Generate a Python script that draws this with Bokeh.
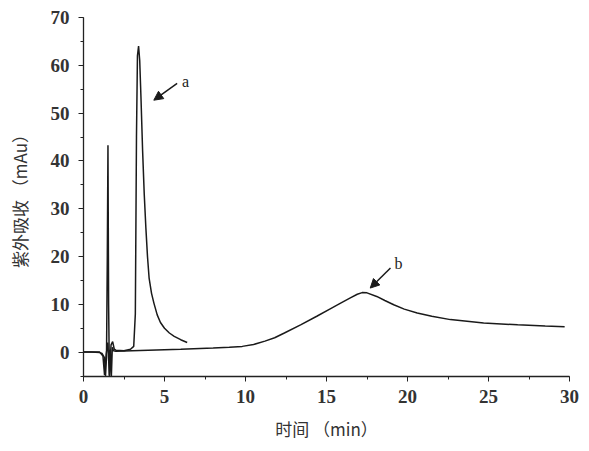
from bokeh.plotting import figure
from bokeh.models import SingleIntervalTicker, Label, Arrow, NormalHead, Range1d
from bokeh.embed import file_html
from bokeh.resources import INLINE

# Curve a (sample a)
a_time = [0.0, 0.5, 1.0, 1.2, 1.3, 1.4, 1.5, 1.6, 1.7, 1.8, 1.9, 2.0, 2.5, 2.9, 3.1, 3.2, 3.27,
          3.33, 3.40, 3.47, 3.55, 3.65, 3.75, 3.85, 3.95, 4.05, 4.2, 4.35, 4.55, 4.75, 5.0,
          5.3, 5.6, 6.0, 6.4]
a_value = [0.0, 0.0, 0.0, -0.8, -4.8, -0.5, 2.0, -4.9, 1.5, 2.2, 0.6, 0.4, 0.3, 0.6, 1.2, 8.0, 45.0,
           62.0, 64.0, 61.0, 53.0, 42.0, 33.0, 26.0, 20.0, 15.5, 12.3, 10.2, 7.8, 6.2, 5.0,
           4.0, 3.3, 2.6, 2.0]

# Curve b (sample b)
b_time = [0.0, 0.5, 1.0, 1.15, 1.3, 1.36, 1.42, 1.47, 1.51, 1.55, 1.6, 1.66, 1.72, 1.78, 1.85,
          2.0, 4.0, 6.0, 8.0, 9.0, 9.8, 10.5, 11.2, 11.8, 12.4, 13.4, 14.4, 15.2, 15.9, 16.5,
          16.9, 17.2, 17.5, 18.1, 18.6, 19.15, 19.8, 20.6, 21.5, 22.65, 24.7, 26.8, 28.5, 29.7]
b_value = [0.0, 0.0, -0.1, -0.3, -1.2, -5.0, -1.0, 20.0, 43.3, 10.0, -5.0, 0.5, -5.0, 1.0, 0.3,
           0.2, 0.4, 0.6, 0.85, 1.0, 1.2, 1.6, 2.3, 3.0, 4.0, 5.7, 7.5, 9.0, 10.3, 11.4,
           12.1, 12.45, 12.4, 11.65, 10.8, 9.9, 9.0, 8.2, 7.5, 6.8, 6.1, 5.7, 5.45, 5.3]

# Annotations: arrows (tail -> head) and labels
arrow_names = ["a", "b"]
arrow_tail_x = [5.78, 18.95]
arrow_tail_y = [56.2, 17.6]
arrow_head_x = [4.34, 17.7]
arrow_head_y = [52.7, 13.4]
label_x = [6.3, 19.45]
label_y = [56.7, 18.6]

x_ticks_interval = 5
y_ticks_interval = 10

p = figure(width=583, height=443, output_backend="svg", toolbar_location=None,
           x_range=Range1d(0, 30), y_range=Range1d(-5.1, 70),
           min_border_left=83, min_border_right=14, min_border_top=17, min_border_bottom=66,
           x_axis_label="时间 （min）", y_axis_label="紫外吸收 （mAu）")
p.outline_line_color = None
p.xgrid.visible = False
p.ygrid.visible = False
p.background_fill_color = "white"

p.xaxis.ticker = SingleIntervalTicker(interval=x_ticks_interval, num_minor_ticks=2)
p.yaxis.ticker = SingleIntervalTicker(interval=y_ticks_interval, num_minor_ticks=2)

for ax in (p.xaxis[0], p.yaxis[0]):
    ax.axis_line_color = "#222222"
    ax.axis_line_width = 1.3
    ax.major_tick_line_color = "#222222"
    ax.minor_tick_line_color = "#222222"
    ax.major_tick_in = 0
    ax.major_tick_out = 5
    ax.minor_tick_in = 0
    ax.minor_tick_out = 3
    ax.major_label_text_font = "Liberation Serif"
    ax.major_label_text_font_style = "bold"
    ax.major_label_text_font_size = "19px"
    ax.major_label_text_color = "#333333"
    ax.axis_label_text_font = "Noto Sans CJK SC"
    ax.axis_label_text_font_style = "normal"
    ax.axis_label_text_font_size = "17px"
    ax.axis_label_text_color = "#333333"

p.xaxis.major_label_standoff = 8
p.yaxis.major_label_standoff = 9
p.xaxis.axis_label_standoff = 10
p.yaxis.axis_label_standoff = 16

p.line(a_time, a_value, line_color="#1a1a1a", line_width=1.5)
p.line(b_time, b_value, line_color="#1a1a1a", line_width=1.5)

for i in range(len(arrow_names)):
    p.add_layout(Arrow(end=NormalHead(size=9, fill_color="#1a1a1a", line_color="#1a1a1a"),
                       x_start=arrow_tail_x[i], y_start=arrow_tail_y[i],
                       x_end=arrow_head_x[i], y_end=arrow_head_y[i],
                       line_color="#1a1a1a", line_width=1.5))
    p.add_layout(Label(x=label_x[i], y=label_y[i], text=arrow_names[i],
                       text_font="Liberation Serif", text_font_size="16px",
                       text_align="center", text_baseline="middle", text_color="#222222"))

open("out.html", "w").write(file_html(p, INLINE))
